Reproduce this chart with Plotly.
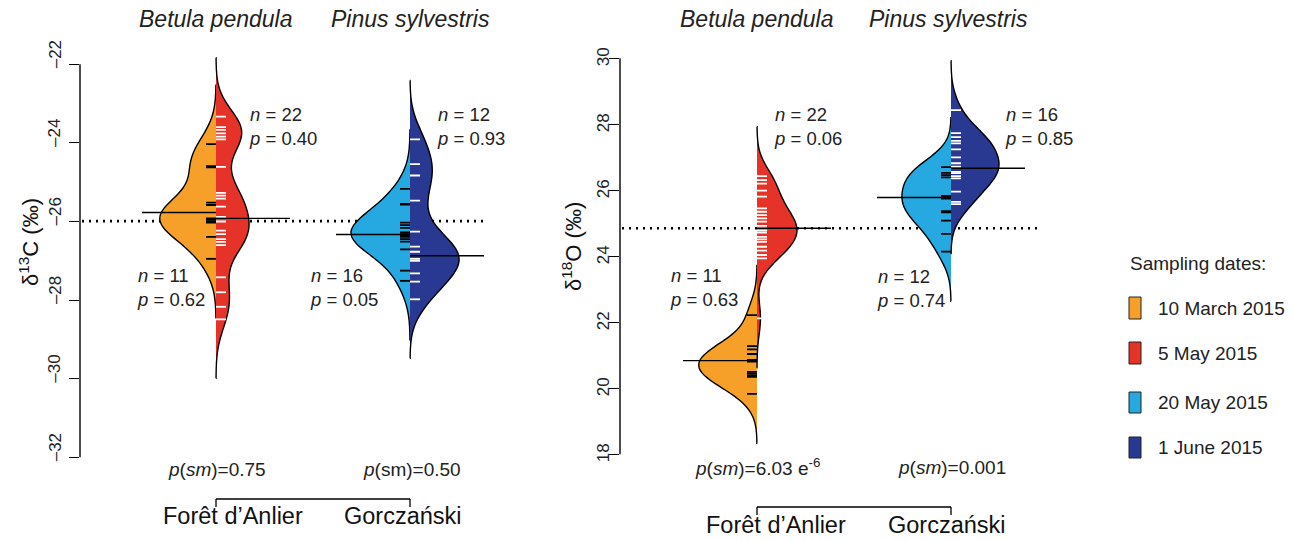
import plotly.graph_objects as go

W, H = 1303, 540
FONT = "Liberation Sans, Arial, sans-serif"

# ---------------- data ----------------
sites = ["Forêt d’Anlier", "Gorczański"]
species = ["Betula pendula", "Pinus sylvestris"]
dates = ["10 March 2015", "5 May 2015", "20 May 2015", "1 June 2015"]
colors = ["#F6A02A", "#E63329", "#25A9E0", "#293890"]

# delta 13C (per mil)
d13c_birch_10mar = [-24.03, -24.59, -24.62, -25.52, -25.58, -25.92, -25.96, -26.00, -26.03, -26.39, -26.95]
d13c_birch_5may = [-23.33, -23.60, -23.67, -23.76, -23.84, -23.91, -24.61, -25.27, -25.34, -25.42, -25.62,
                   -25.88, -26.00, -26.23, -26.32, -26.45, -26.52, -26.60, -27.42, -27.80, -28.17, -28.49]
d13c_pine_20may = [-25.17, -25.55, -25.57, -26.03, -26.09, -26.16, -26.28, -26.32, -26.35, -26.37, -26.39,
                   -26.45, -26.51, -26.71, -27.25, -27.51]
d13c_pine_1jun = [-23.91, -24.54, -24.83, -25.47, -26.26, -26.64, -26.77, -26.95, -27.00, -27.32, -27.53, -27.98]

# delta 18O (per mil)
d18o_birch_10mar = [22.22, 21.28, 21.18, 21.04, 20.86, 20.81, 20.50, 20.45, 20.40, 20.35, 19.83]
d18o_birch_5may = [26.43, 26.31, 26.20, 25.99, 25.81, 25.45, 25.35, 25.25, 25.15, 25.05, 24.92,
                   24.85, 24.78, 24.72, 24.59, 24.51, 24.44, 24.29, 24.17, 24.04, 23.94, 22.12]
d18o_pine_20may = [26.70, 26.53, 26.46, 26.39, 25.83, 25.79, 25.75, 25.37, 25.33, 25.08, 24.68, 24.14]
d18o_pine_1jun = [28.43, 27.73, 27.61, 27.50, 27.42, 27.24, 27.00, 26.82, 26.72, 26.56, 26.52, 26.43,
                  26.36, 25.96, 25.65, 25.58]

d13c_avg = [-25.77, -25.92, -26.33, -26.87]
d18o_avg = [20.84, 24.85, 25.78, 26.67]
d13c_overall = -25.99
d18o_overall = 24.85

d13c_n = [11, 22, 16, 12]
d13c_p = ["0.62", "0.40", "0.05", "0.93"]
d18o_n = [11, 22, 12, 16]
d18o_p = ["0.63", "0.06", "0.74", "0.85"]
d13c_psm = ["<i>p</i>(<i>sm</i>)=0.75", "<i>p</i>(sm)=0.50"]
d18o_psm = ["<i>p</i>(<i>sm</i>)=6.03 e<sup>-6</sup>", "<i>p</i>(<i>sm</i>)=0.001"]

d13c_ticks = [-32, -30, -28, -26, -24, -22]
d18o_ticks = [18, 20, 22, 24, 26, 28, 30]

bandwidth = 0.5
cut = 3

# ---------------- geometry / styling (pixels) ----------------
PXU = 194.0  # pixels per category unit
panels = {
    "L": dict(c1=216, dom=(80, 510), ytop=64.3, ybot=457.3, vtop=-22, vbot=-32, pad=0.5,
              xa="x", ya="y", axpx=80, halfw=[56, 33, 59, 49]),
    "R": dict(c1=757, dom=(620, 1070), ytop=58.3, ybot=454.3, vtop=30, vbot=18, pad=0.5,
              xa="x2", ya="y2", axpx=620, halfw=[58, 40, 49, 48]),
}


def xr(p):
    return [1 - (p["c1"] - p["dom"][0]) / PXU, 1 + (p["dom"][1] - p["c1"]) / PXU]


def yr(p):
    ppu = (p["ybot"] - p["ytop"]) / (p["vtop"] - p["vbot"])
    top = p["ytop"] - p["pad"] * ppu
    bot = p["ybot"] + p["pad"] * ppu
    return [p["vbot"] - p["pad"], p["vtop"] + p["pad"]], [1 - bot / H, 1 - top / H]


def px2x(p, px):
    return 1 + (px - p["c1"]) / PXU


fig = go.Figure()

BEAN = 10 / PXU
AVG = 74 / PXU


def add_panel(key, groups, avgs):
    p = panels[key]
    for i, vals in enumerate(groups):
        pos = 1 if i < 2 else 2
        side = "negative" if i % 2 == 0 else "positive"
        fig.add_trace(go.Violin(
            x=[pos] * len(vals), y=vals, side=side, bandwidth=bandwidth,
            spanmode="manual", span=[min(vals) - cut * bandwidth, max(vals) + cut * bandwidth],
            fillcolor=colors[i], line=dict(color="black", width=1.4),
            points=False, width=2 * p["halfw"][i] / PXU, scalegroup=f"{key}{i}",
            xaxis=p["xa"], yaxis=p["ya"], showlegend=False, hoverinfo="skip",
            name=dates[i], opacity=1,
        ))
    # bean lines (individual observations)
    for i, vals in enumerate(groups):
        pos = 1 if i < 2 else 2
        sgn = -1 if i % 2 == 0 else 1
        xs, ys = [], []
        for v in vals:
            xs += [pos, pos + sgn * BEAN, None]
            ys += [v, v, None]
        fig.add_trace(go.Scatter(x=xs, y=ys, mode="lines",
                                 line=dict(color="black" if sgn < 0 else "white", width=1.8),
                                 xaxis=p["xa"], yaxis=p["ya"], showlegend=False, hoverinfo="skip"))
    # average lines
    for i, a in enumerate(avgs):
        pos = 1 if i < 2 else 2
        sgn = -1 if i % 2 == 0 else 1
        fig.add_trace(go.Scatter(x=[pos, pos + sgn * AVG], y=[a, a], mode="lines",
                                 line=dict(color="black", width=1.4),
                                 xaxis=p["xa"], yaxis=p["ya"], showlegend=False, hoverinfo="skip"))


add_panel("L", [d13c_birch_10mar, d13c_birch_5may, d13c_pine_20may, d13c_pine_1jun], d13c_avg)
add_panel("R", [d18o_birch_10mar, d18o_birch_5may, d18o_pine_20may, d18o_pine_1jun], d18o_avg)

shapes = []
annotations = []


def ann(x, y, text, size, color="#222", xanchor="center", yanchor="middle", xref="paper", yref="paper",
        **kw):
    d = dict(xref=xref, yref=yref, x=x, y=y, text=text, showarrow=False, xanchor=xanchor,
             yanchor=yanchor, font=dict(size=size, color=color, family=FONT))
    d.update(kw)
    annotations.append(d)


for key, overall, dot_px, ticks, tick_x, tick_shift in [
        ("L", d13c_overall, (82, 487), d13c_ticks, 55, 10),
        ("R", d18o_overall, (622, 1040), d18o_ticks, 603, 1)]:
    p = panels[key]
    # overall average dotted line
    shapes.append(dict(type="line", xref=p["xa"], yref=p["ya"], layer="below",
                       x0=px2x(p, dot_px[0]), x1=px2x(p, dot_px[1]), y0=overall, y1=overall,
                       line=dict(color="black", width=2.6, dash="2px,5px")))
    # y axis line
    shapes.append(dict(type="line", xref="paper", yref=p["ya"], x0=p["axpx"] / W, x1=p["axpx"] / W,
                       y0=min(ticks), y1=max(ticks), line=dict(color="black", width=1.4)))
    for t in ticks:
        ann(tick_x / W, t, str(t).replace("-", "–"), 17, yref=p["ya"], yshift=tick_shift, textangle=-90)

# axis titles
ann(29 / W, 1 - 242 / H, "δ<sup>13</sup>C (‰)", 22, color="#111", textangle=-90)
ann(572 / W, 1 - 247 / H, "δ<sup>18</sup>O (‰)", 22, color="#111", textangle=-90)

# species titles
for cx, txt in [(216, species[0]), (410, species[1]), (756, species[0]), (948, species[1])]:
    ann(cx / W, 1 - 19 / H, "<i>" + txt + "</i>", 23)

# n / p labels
np_pos_L = [(135, 287), (247, 127), (308, 287), (435, 127)]
np_pos_R = [(668, 287), (772, 127), (875, 288), (1003, 126)]
for poss, ns, ps in [(np_pos_L, d13c_n, d13c_p), (np_pos_R, d18o_n, d18o_p)]:
    for (x, y), n, pv in zip(poss, ns, ps):
        ann(x / W, 1 - y / H, f"<i>n</i> = {n}<br><i>p</i> = {pv}", 18.5, xanchor="left", align="left")

# p(sm) labels
for (x, y), t in zip([(216.7, 469), (411.7, 469)], d13c_psm):
    ann(x / W, 1 - y / H, t, 19)
for (x, y), t in zip([(757.5, 467), (951.7, 467)], d18o_psm):
    ann(x / W, 1 - y / H, t, 19)

# brackets and site labels
for key, by, lab_y, lab_x in [("L", 499, 516, (233, 403)), ("R", 507, 525, (776, 947))]:
    p = panels[key]
    yb = 1 - by / H
    yt = 1 - (by + 8) / H
    shapes.append(dict(type="line", xref=p["xa"], yref="paper", x0=1, x1=2, y0=yb, y1=yb,
                       line=dict(color="black", width=1.3)))
    for pos in (1, 2):
        shapes.append(dict(type="line", xref=p["xa"], yref="paper", x0=pos, x1=pos, y0=yb, y1=yt,
                           line=dict(color="black", width=1.3)))
    for cx, s in zip(lab_x, sites):
        ann(cx / W, 1 - lab_y / H, s, 23.5, color="#111")

# legend
ann(1128 / W, 1 - 263 / H, "Sampling dates:", 19, xanchor="left")
leg_rows = [(297, 319), (342, 364), (392, 413), (437, 458)]
for (t0, t1), c, d in zip(leg_rows, colors, dates):
    shapes.append(dict(type="rect", xref="paper", yref="paper", x0=1129 / W, x1=1141 / W,
                       y0=1 - t1 / H, y1=1 - t0 / H, fillcolor=c, line=dict(color="#222", width=1)))
    ann(1156 / W, 1 - (t0 + t1) / 2 / H, d, 19, xanchor="left")

layout = dict(
    width=W, height=H, margin=dict(l=0, r=0, t=0, b=0),
    paper_bgcolor="white", plot_bgcolor="white",
    violinmode="overlay", violingap=0, violingroupgap=0,
    showlegend=False, shapes=shapes, annotations=annotations,
    font=dict(family=FONT),
)
for key in ("L", "R"):
    p = panels[key]
    xname = "xaxis" if p["xa"] == "x" else "xaxis2"
    yname = "yaxis" if p["ya"] == "y" else "yaxis2"
    yrange, ydom = yr(p)
    ticks = d13c_ticks if key == "L" else d18o_ticks
    layout[xname] = dict(domain=[p["dom"][0] / W, p["dom"][1] / W], range=xr(p), type="linear",
                         visible=False, anchor=p["ya"], fixedrange=True)
    layout[yname] = dict(domain=ydom, range=yrange, anchor=p["xa"], showline=False, showgrid=False,
                         zeroline=False, ticks="outside", ticklen=10, tickwidth=1.4, tickcolor="black",
                         tickvals=ticks, showticklabels=False, fixedrange=True)

fig.update_layout(**layout)
fig.write_html("out.html")
